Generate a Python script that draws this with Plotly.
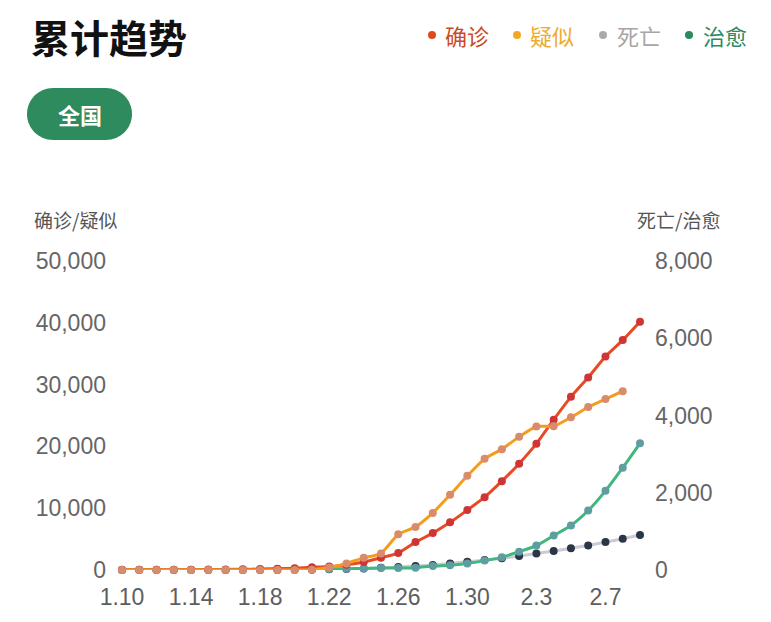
import plotly.graph_objects as go

# ---- data ----
dates = ["1.%d" % d for d in range(10, 32)] + ["2.%d" % d for d in range(1, 10)]
confirmed = [41, 41, 41, 41, 41, 41, 45, 62, 121, 198, 291, 440, 571, 830, 1287, 1975,
             2744, 4515, 5974, 7711, 9692, 11791, 14380, 17205, 20438, 24324, 28018,
             31161, 34546, 37198, 40171]
suspected = [0, 0, 0, 0, 0, 0, 0, 0, 0, 0, 0, 37, 393, 1072, 1965, 2684, 5794, 6973,
             9239, 12167, 15238, 17988, 19544, 21558, 23214, 23260, 24702, 26359,
             27657, 28942]
deaths = [1, 1, 1, 1, 1, 2, 2, 2, 3, 3, 6, 9, 17, 25, 41, 56, 80, 106, 132, 170, 213,
          259, 304, 361, 425, 490, 563, 636, 722, 811, 908]
cured = [2, 6, 7, 7, 7, 12, 15, 19, 24, 25, 25, 25, 28, 34, 38, 49, 51, 60, 103, 124,
         171, 243, 328, 475, 632, 892, 1153, 1540, 2050, 2649, 3281]
tick_dates = dates[0:30:4]
left_ticks = [0, 10000, 20000, 30000, 40000, 50000]
right_ticks = [0, 2000, 4000, 6000, 8000]

W, H = 771, 622
L, R, T, B = 122, 131, 261, 52
PW, PH = W - L - R, H - T - B


def px(x):
    return (x - L) / PW


def py(y):
    return (H - B - y) / PH


FONT = "Liberation Sans, Noto Sans CJK SC, sans-serif"
CJK = "Noto Sans CJK SC, sans-serif"

fig = go.Figure()
# deaths / cured on the right-hand axis (base layer)
fig.add_trace(go.Scatter(x=dates, y=deaths, yaxis="y", mode="lines+markers",
                         line=dict(color="#c9cdd2", width=3, shape="spline", smoothing=0.5),
                         marker=dict(color="#2b3646", size=8), cliponaxis=False, name="死亡"))
fig.add_trace(go.Scatter(x=dates, y=cured, yaxis="y", mode="lines+markers",
                         line=dict(color="#3fb87f", width=3, shape="spline", smoothing=0.5),
                         marker=dict(color="#5f9ea0", size=8), cliponaxis=False, name="治愈"))
# confirmed / suspected on the left-hand axis (overlay layer, drawn on top)
fig.add_trace(go.Scatter(x=dates, y=confirmed, yaxis="y2", mode="lines+markers",
                         line=dict(color="#e84a26", width=3, shape="spline", smoothing=0.5),
                         marker=dict(color="#cf3535", size=8), cliponaxis=False, name="确诊"))
fig.add_trace(go.Scatter(x=dates[:len(suspected)], y=suspected, yaxis="y2",
                         mode="lines+markers",
                         line=dict(color="#f59c1c", width=3, shape="spline", smoothing=0.5),
                         marker=dict(color="#d88c6c", size=8), cliponaxis=False, name="疑似"))

fig.update_layout(
    width=W, height=H, autosize=False,
    margin=dict(l=L, r=R, t=T, b=B, pad=0),
    paper_bgcolor="white", plot_bgcolor="white",
    showlegend=False, hovermode=False,
    font=dict(family=FONT, color="#666666", size=23),
    xaxis=dict(type="category", range=[0, 30], tickmode="array", tickvals=tick_dates,
               ticktext=tick_dates, showgrid=False, zeroline=False, showline=False,
               ticks="", ticklabelstandoff=11, tickfont=dict(size=23, color="#5e5e5e")),
    yaxis=dict(range=[0, 8000], tickvals=right_ticks, tickformat=",d", side="right",
               showgrid=False, zeroline=False, showline=False, ticks="",
               ticklabelstandoff=14, tickfont=dict(size=23, color="#666666")),
    yaxis2=dict(range=[0, 50000], tickvals=left_ticks, tickformat=",d", overlaying="y",
                side="left", showgrid=False, zeroline=False, showline=False, ticks="",
                ticklabelstandoff=15, tickfont=dict(size=23, color="#666666")),
)

ann = []
ann.append(dict(text="<b>累计趋势</b>", x=px(29), y=py(36), xref="paper", yref="paper",
                xanchor="left", yanchor="middle", showarrow=False,
                font=dict(family=CJK, size=39, color="#111111")))
# legend
legend = [("确诊", 432, 443, "#e04a1c", "#cc4a26"),
          ("疑似", 517, 528, "#f5a623", "#eeaa2c"),
          ("死亡", 603, 615, "#aaaaaa", "#a6a6a6"),
          ("治愈", 689, 701, "#2a8a5c", "#2e8a66")]
shapes = []
for name, dx, tx, dcol, tcol in legend:
    shapes.append(dict(type="circle", xref="paper", yref="paper", xsizemode="pixel",
                       ysizemode="pixel", xanchor=px(dx), yanchor=py(35),
                       x0=-4, x1=4, y0=-4, y1=4, fillcolor=dcol, line=dict(width=0)))
    ann.append(dict(text=name, x=px(tx), y=py(35), xref="paper", yref="paper",
                    xanchor="left", yanchor="middle", showarrow=False,
                    font=dict(family=CJK, size=22, color=tcol)))
# button
k = 14.36
path = ("M -26.5,-26 L 26.5,-26 C %.2f,-26 52.5,%.2f 52.5,0 C 52.5,%.2f %.2f,26 26.5,26 "
        "L -26.5,26 C %.2f,26 -52.5,%.2f -52.5,0 C -52.5,%.2f %.2f,-26 -26.5,-26 Z") % (
    26.5 + k, -k, k, 26.5 + k, -26.5 - k, k, -k, -26.5 - k)
shapes.append(dict(type="path", xref="paper", yref="paper", xsizemode="pixel",
                   ysizemode="pixel", xanchor=px(79.5), yanchor=py(114), path=path,
                   fillcolor="#2e8b5e", line=dict(width=0)))
ann.append(dict(text="<b>全国</b>", x=px(79.5), y=py(114), xref="paper", yref="paper",
                xanchor="center", yanchor="middle", showarrow=False,
                font=dict(family=CJK, size=22, color="white")))
# axis titles
ann.append(dict(text="确诊/疑似", x=px(32), y=py(220), xref="paper", yref="paper",
                xanchor="left", yanchor="middle", showarrow=False,
                font=dict(family=CJK, size=19, color="#555555")))
ann.append(dict(text="死亡/治愈", x=px(722), y=py(220), xref="paper", yref="paper",
                xanchor="right", yanchor="middle", showarrow=False,
                font=dict(family=CJK, size=19, color="#555555")))

fig.update_layout(annotations=ann, shapes=shapes)
fig.write_html("out.html", config={"displayModeBar": False})
